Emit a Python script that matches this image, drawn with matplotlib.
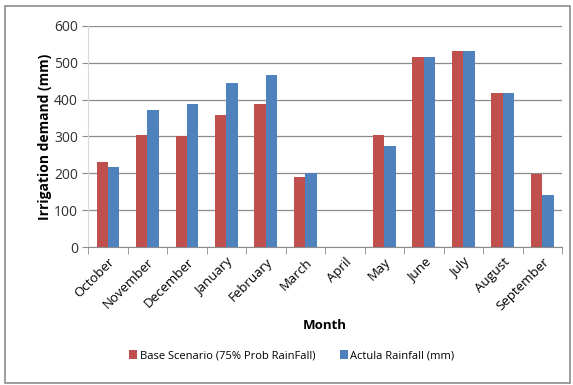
import numpy as np
import matplotlib.pyplot as plt
from matplotlib.patches import Rectangle

months = ['October', 'November', 'December', 'January', 'February', 'March',
          'April', 'May', 'June', 'July', 'August', 'September']
base = [230, 303, 301, 358, 388, 190, 0, 305, 515, 533, 418, 199]
actual = [216, 372, 389, 445, 467, 201, 0, 274, 515, 533, 418, 141]

plt.rcParams['font.family'] = ['Open Sans', 'DejaVu Sans']

fig = plt.figure(figsize=(5.73, 3.85), dpi=100)
ax = fig.add_axes([0.154, 0.358, 0.827, 0.575])

x = np.arange(len(months))
w = 0.29
ax.bar(x - w / 2, base, w, color='#C0504D', label='Base Scenario (75% Prob RainFall)', zorder=3)
ax.bar(x + w / 2, actual, w, color='#4F81BD', label='Actula Rainfall (mm)', zorder=3)

ax.set_xlim(-0.5, len(months) - 0.5)
ax.set_ylim(0, 600)
ax.set_yticks(range(0, 601, 100))
ax.yaxis.grid(True, color='#8c8c8c', linewidth=0.9, zorder=0)
ax.set_xticks(x)
ax.set_xticklabels(months, rotation=45, ha='right', rotation_mode='anchor', fontsize=9.5)
ax.set_xticks(np.arange(-0.5, len(months)), minor=True)
ax.tick_params(axis='x', which='major', length=0, pad=6)
ax.tick_params(axis='x', which='minor', length=5, color='#8c8c8c', direction='out')
ax.tick_params(axis='y', length=4, color='#8c8c8c', labelsize=10, labelcolor='#303030')

for s in ['top', 'right']:
    ax.spines[s].set_visible(False)
ax.spines['left'].set_color('#d9d9d9')
ax.spines['bottom'].set_color('#8c8c8c')

ax.set_ylabel('Irrigation demand (mm)', fontsize=10, fontweight='bold', labelpad=1)
ax.set_xlabel('Month', fontsize=9.5, fontweight='bold', labelpad=4)

ax.legend(loc='center', bbox_to_anchor=(0.43, -0.49), ncol=2, frameon=False,
          fontsize=8, handlelength=0.7, handleheight=0.8, handletextpad=0.25,
          columnspacing=2.2)

fig.patches.append(Rectangle((0.009, 0.005), 0.985, 0.98, transform=fig.transFigure,
                             fill=False, edgecolor='#8c8c8c', linewidth=1.2))

fig.savefig('out.png', dpi=100)
